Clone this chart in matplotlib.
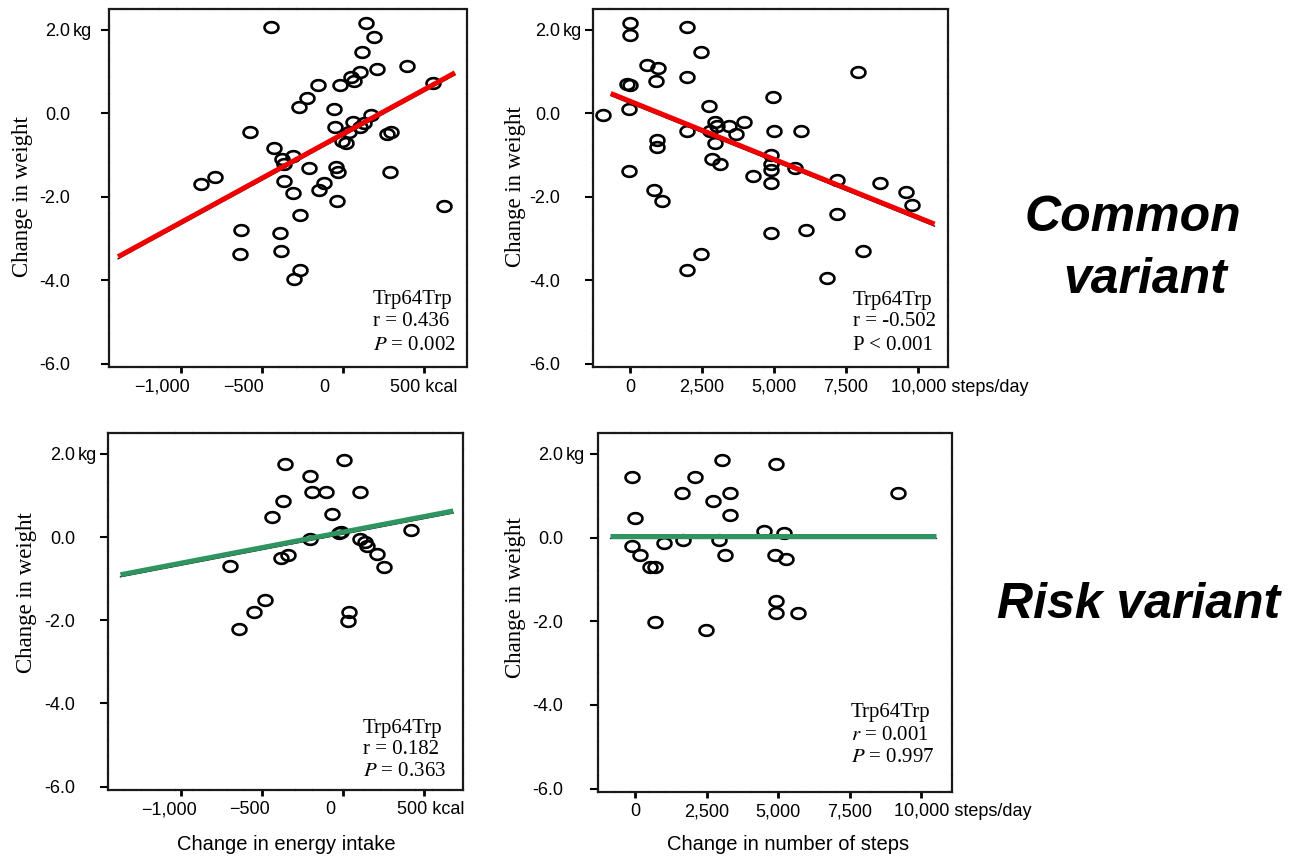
import numpy as np
import matplotlib
matplotlib.use('Agg')
import matplotlib.pyplot as plt
from matplotlib.path import Path

plt.rcParams['font.family'] = ['Liberation Sans', 'DejaVu Sans']
plt.rcParams['mathtext.fontset'] = 'stix'

# ---- data ----
energy_ticks = [-1000, -500, 0, 500]
energy_tick_labels = ['\u22121,000', '\u2212500', '0', '500']
steps_ticks = [0, 2500, 5000, 7500, 10000]
steps_tick_labels = ['0', '2,500', '5,000', '7,500', '10,000']
weight_ticks = [2, 0, -2, -4, -6]
weight_tick_labels = ['2.0', '0.0', '-2.0', '-4.0', '-6.0']

# common variant, energy intake
energy_common_x = [-445, 141, 192, 116, 106, 208, 396, 49, 69, -153,
                   -20, -224, -271, -57, 173, 61, 126, -51, 106, 35,
                   269, 294, -6, 14, -577, -428, -377, -312, -363, -210,
                   -47, -31, 286, -881, -792, -367, -118, -149, -312, -37,
                   620, -265, -632, -388, -639, -384, -265, -302, 555]
energy_common_y = [2.06, 2.16, 1.84, 1.47, 0.98, 1.07, 1.14, 0.87, 0.77, 0.68,
                   0.67, 0.37, 0.16, 0.10, -0.04, -0.21, -0.24, -0.32, -0.34, -0.44,
                   -0.50, -0.44, -0.66, -0.71, -0.44, -0.82, -1.10, -1.02, -1.21, -1.31,
                   -1.29, -1.40, -1.41, -1.69, -1.53, -1.63, -1.67, -1.83, -1.90, -2.10,
                   -2.21, -2.43, -2.80, -2.88, -3.38, -3.29, -3.75, -3.97, 0.73]

# common variant, steps
steps_common_x = [0, 0, 1967, 2453, 579, 983, 902, 1967, 7925, -116,
                  0, 4975, 2742, -23, -926, 1967, 2950, 3008, 2777, 3448,
                  3702, 3957, 5010, 5935, 949, 949, 2973, 2835, 3124, 4894,
                  4894, 4894, 4917, 4281, 5727, -35, 833, 1099, 7208, 8678,
                  9603, 9811, 7208, 4894, 6132, 2453, 8099, 1967, 6861]
steps_common_y = [2.17, 1.87, 2.06, 1.48, 1.15, 1.08, 0.78, 0.88, 0.99, 0.70,
                  0.69, 0.38, 0.17, 0.10, -0.04, -0.43, -0.20, -0.31, -0.43, -0.31,
                  -0.49, -0.21, -0.43, -0.43, -0.63, -0.81, -0.71, -1.09, -1.22, -1.01,
                  -1.22, -1.37, -1.68, -1.51, -1.31, -1.39, -1.83, -2.10, -1.60, -1.67,
                  -1.88, -2.20, -2.42, -2.87, -2.79, -3.37, -3.29, -3.75, -3.94]

# risk variant, energy intake
energy_risk_x = [4, -356, -206, -192, -109, 107, -371, -439, -68, -27,
                 420, -206, 103, 134, 148, 210, 255, -381, -342, -696,
                 -480, -552, -645, 35, 31, -12]
energy_risk_y = [1.86, 1.75, 1.46, 1.07, 1.07, 1.07, 0.87, 0.48, 0.55, 0.10,
                 0.16, -0.05, -0.05, -0.12, -0.21, -0.42, -0.71, -0.50, -0.44, -0.70,
                 -1.52, -1.79, -2.22, -1.79, -2.01, 0.13]

# risk variant, steps
steps_risk_x = [3038, 4913, -88, 2100, 1650, 3313, 9213, 2713, 3313, 0,
                4525, 5213, 1663, 2938, 1025, -113, 188, 3163, 4900, 5263,
                525, 713, 4938, 4938, 5713, 713, 2475]
steps_risk_y = [1.86, 1.75, 1.46, 1.46, 1.07, 1.07, 1.07, 0.87, 0.55, 0.48,
                0.16, 0.10, -0.05, -0.05, -0.12, -0.21, -0.42, -0.42, -0.42, -0.50,
                -0.71, -0.71, -1.52, -1.81, -1.79, -2.01, -2.22]

# regression lines: x range and (slope, intercept)
energy_common_fit_x = [-1390, 690]
energy_common_fit = (0.00212, -0.49)
steps_common_fit_x = [-670, 10590]
steps_common_fit = (-0.000278, 0.29)
energy_risk_fit_x = [-1375, 680]
energy_risk_fit = (0.000746, 0.12)
steps_risk_fit_x = [-890, 10520]
steps_risk_fit = (0.0, 0.04)

stats_text = [
    ['Trp64Trp', 'r = 0.436', '$P$ = 0.002'],
    ['Trp64Trp', 'r = -0.502', 'P < 0.001'],
    ['Trp64Trp', 'r = 0.182', '$P$ = 0.363'],
    ['Trp64Trp', '$r$ = 0.001', '$P$ = 0.997'],
]

# ---- figure ----
W, H = 1296, 858
fig = plt.figure(figsize=(W / 100, H / 100), dpi=100)
PT = 0.72  # points per pixel at dpi 100

RED = '#f00000'
GREEN = '#2e9560'
SERIF = ['Liberation Serif', 'DejaVu Serif']


def px_rect(l, t, r, b):
    return [l / W, 1 - b / H, (r - l) / W, (b - t) / H]


theta = np.linspace(0, 2 * np.pi, 73)
oval = Path(np.column_stack([1.3 * np.cos(theta), np.sin(theta)]))

panels = [
    dict(rect=px_rect(109, 9, 467, 367), x=energy_common_x, y=energy_common_y,
         fx=energy_common_fit_x, fit=energy_common_fit, color=RED,
         xlim=(-1446, 764), ticks=energy_ticks, labels=energy_tick_labels,
         unit='kcal', dx=-19, half=15, ygap=39,
         stats=stats_text[0], sx=373, sy=[300, 322, 346], yl=(23, 197)),
    dict(rect=px_rect(593, 9, 948, 367), x=steps_common_x, y=steps_common_y,
         fx=steps_common_fit_x, fit=steps_common_fit, color=RED,
         xlim=(-1286, 11057), ticks=steps_ticks, labels=steps_tick_labels,
         unit='steps/day', dx=0, half=27, ygap=33,
         stats=stats_text[1], sx=853, sy=[301, 322, 346], yl=(515, 187)),
    dict(rect=px_rect(108, 433, 463, 790), x=energy_risk_x, y=energy_risk_y,
         fx=energy_risk_fit_x, fit=energy_risk_fit, color=GREEN,
         xlim=(-1452, 740), ticks=energy_ticks, labels=energy_tick_labels,
         unit='kcal', dx=-12.5, half=15, ygap=33,
         stats=stats_text[2], sx=363, sy=[729, 749, 771], yl=(27, 593)),
    dict(rect=px_rect(598, 433, 952, 792), x=steps_risk_x, y=steps_risk_y,
         fx=steps_risk_fit_x, fit=steps_risk_fit, color=GREEN,
         xlim=(-1294, 11084), ticks=steps_ticks, labels=steps_tick_labels,
         unit='steps/day', dx=0, half=27, ygap=35,
         stats=stats_text[3], sx=851, sy=[713, 735, 757], yl=(515, 598)),
]

TICK_LEN = 8  # px

for p in panels:
    ax = fig.add_axes(p['rect'])
    ax.set_xlim(*p['xlim'])
    ax.set_ylim(-6.08, 2.5)

    fy = np.polyval(p['fit'], p['fx'])
    ax.plot(p['x'], p['y'], ls='none', marker=oval, ms=10, mfc='none',
            mec='black', mew=1.9, zorder=3)
    ax.plot(p['fx'], fy - 0.05, color='black', lw=0.9, zorder=4)
    ax.plot(p['fx'], fy, color=p['color'], lw=3.6, solid_capstyle='butt', zorder=5)

    for sp in ax.spines.values():
        sp.set_linewidth(1.6)
        sp.set_color('#1a1a1a')
        sp.set_linestyle((0, (7, 0.7)))

    ax.set_yticks(weight_ticks)
    ax.set_yticklabels(weight_tick_labels)
    ax.tick_params(axis='y', direction='out', length=TICK_LEN * PT, width=1.5,
                   pad=(p['ygap'] - TICK_LEN) * PT, labelsize=13)
    ax.annotate('kg', xy=(0, 2.0), xycoords=('axes fraction', 'data'),
                xytext=((-p['ygap'] + 3) * PT, 0), textcoords='offset points',
                ha='left', va='center_baseline', fontsize=13, annotation_clip=False)

    ax.set_xticks(p['ticks'])
    ax.tick_params(axis='x', direction='out', length=4.5, width=2, labelbottom=False)
    for i, (t, lab) in enumerate(zip(p['ticks'], p['labels'])):
        if i == len(p['ticks']) - 1:
            txt, ha, dx = lab + ' ' + p['unit'], 'left', p['dx'] - p['half']
        else:
            txt, ha, dx = lab, 'center', p['dx']
        ax.annotate(txt, xy=(t, 0), xycoords=('data', 'axes fraction'),
                    xytext=(dx * PT, -20 * PT), textcoords='offset points',
                    ha=ha, va='center', fontsize=13, annotation_clip=False)

    for s, yy in zip(p['stats'], p['sy']):
        fig.text(p['sx'] / W, 1 - yy / H, s, family=SERIF, fontsize=15,
                 ha='left', va='center')

    fig.text(p['yl'][0] / W, 1 - p['yl'][1] / H, 'Change in weight', family=SERIF,
             fontsize=16.5, rotation=90, ha='center', va='center')

fig.text(286 / W, 1 - 845 / H, 'Change in energy intake', fontsize=14.5,
         ha='center', va='center')
fig.text(788 / W, 1 - 845 / H, 'Change in number of steps', fontsize=14.5,
         ha='center', va='center')

fig.text(1133 / W, 1 - 218 / H, 'Common', fontsize=36, fontweight='bold',
         style='italic', ha='center', va='center')
fig.text(1145 / W, 1 - 280 / H, 'variant', fontsize=36, fontweight='bold',
         style='italic', ha='center', va='center')
fig.text(1139 / W, 1 - 605 / H, 'Risk variant', fontsize=36, fontweight='bold',
         style='italic', ha='center', va='center')

fig.savefig('out.png', dpi=100)
